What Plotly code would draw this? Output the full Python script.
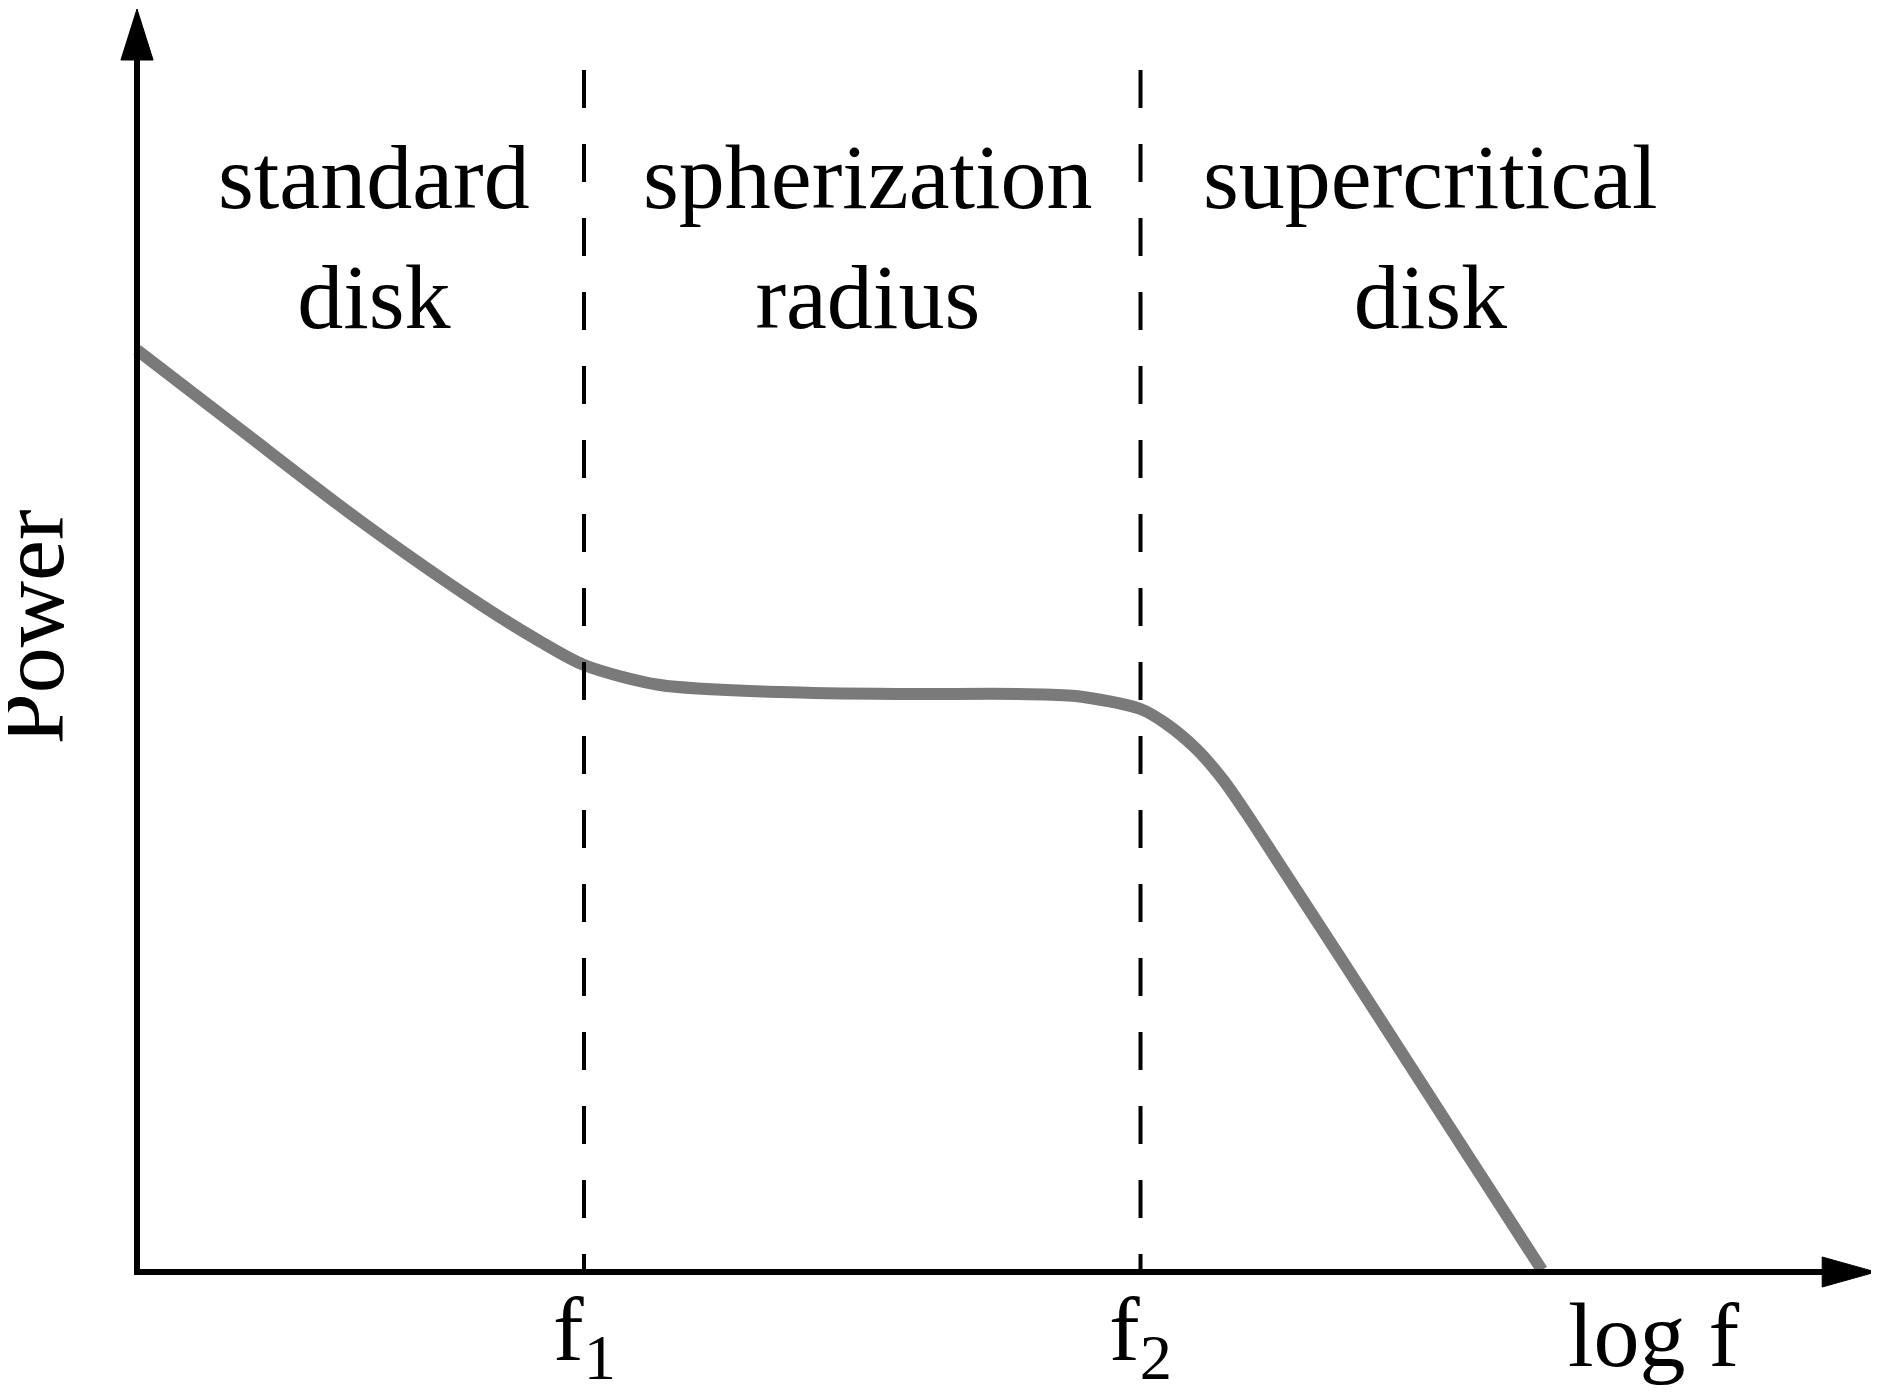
import plotly.graph_objects as go

# Data (arbitrary units: log f with f1 = 1; power with axis origin 0)
log_f = [0.0, 0.23, 0.50, 0.77, 0.90, 1.00, 1.17, 1.44, 1.70, 1.97, 2.10, 2.245, 2.30, 2.37, 2.43, 2.48, 2.55, 2.70, 2.85, 3.00, 3.143]
power = [9.22, 8.43, 7.51, 6.67, 6.31, 6.07, 5.87, 5.80, 5.78, 5.78, 5.76, 5.63, 5.49, 5.23, 4.92, 4.60, 4.12, 3.09, 2.05, 1.01, 0.02]
f_breaks = [1.0, 2.245]
break_labels = ["f<sub>1</sub>", "f<sub>2</sub>"]
regions = ["standard<br>disk", "spherization<br>radius", "supercritical<br>disk"]
region_x = [0.530, 1.635, 2.893]

# page body has an 8px margin; figure sized/ranged to compensate
W, H = 1871, 1384
FONT = "Liberation Serif"
X_RANGE = [-0.28859, 3.8971]
Y_RANGE = [-1.20, 12.64]

fig = go.Figure()
fig.add_trace(go.Scatter(
    x=log_f, y=power, mode="lines",
    line=dict(color="#7a7a7a", width=12, shape="spline", smoothing=0.8),
    hoverinfo="skip", showlegend=False,
))

shapes = []
# axes
shapes.append(dict(type="line", x0=0, x1=0, y0=-0.03, y1=12.2, xref="x", yref="y",
                   line=dict(color="black", width=6)))
shapes.append(dict(type="line", x0=-0.006, x1=3.79, y0=0, y1=0, xref="x", yref="y",
                   line=dict(color="black", width=6)))
# arrowheads
shapes.append(dict(type="path", path="M -0.036 12.12 L 0 12.63 L 0.036 12.12 Z",
                   xref="x", yref="y", fillcolor="black", line=dict(color="black", width=1)))
shapes.append(dict(type="path", path="M 3.77 0.15 L 3.89 0 L 3.77 -0.15 Z",
                   xref="x", yref="y", fillcolor="black", line=dict(color="black", width=1)))
# dashed break lines
for fb in f_breaks:
    shapes.append(dict(type="line", x0=fb, x1=fb, y0=12.02, y1=0, xref="x", yref="y",
                       line=dict(color="black", width=4, dash="38px,36px")))

annotations = []
for txt, xc in zip(regions, region_x):
    annotations.append(dict(x=xc, y=10.35, xref="x", yref="y", text=txt, showarrow=False,
                            xanchor="center", yanchor="middle",
                            font=dict(family=FONT, size=92, color="black")))
for txt, fb in zip(break_labels, f_breaks):
    annotations.append(dict(x=fb, y=-0.63, xref="x", yref="y", text=txt, showarrow=False,
                            xanchor="center", yanchor="middle",
                            font=dict(family=FONT, size=92, color="black")))
annotations.append(dict(x=3.394, y=-0.63, xref="x", yref="y", text="log f", showarrow=False,
                        xanchor="center", yanchor="middle",
                        font=dict(family=FONT, size=92, color="black")))
annotations.append(dict(x=-0.236, y=6.45, xref="x", yref="y", text="Power", showarrow=False,
                        textangle=-90, xanchor="center", yanchor="middle",
                        font=dict(family=FONT, size=92, color="black")))

fig.update_layout(
    width=W, height=H,
    margin=dict(l=0, r=0, t=0, b=0),
    paper_bgcolor="white", plot_bgcolor="white",
    xaxis=dict(range=X_RANGE, visible=False, fixedrange=True),
    yaxis=dict(range=Y_RANGE, visible=False, fixedrange=True),
    shapes=shapes, annotations=annotations,
    showlegend=False,
)

fig.write_html("out.html", config={"displayModeBar": False})
